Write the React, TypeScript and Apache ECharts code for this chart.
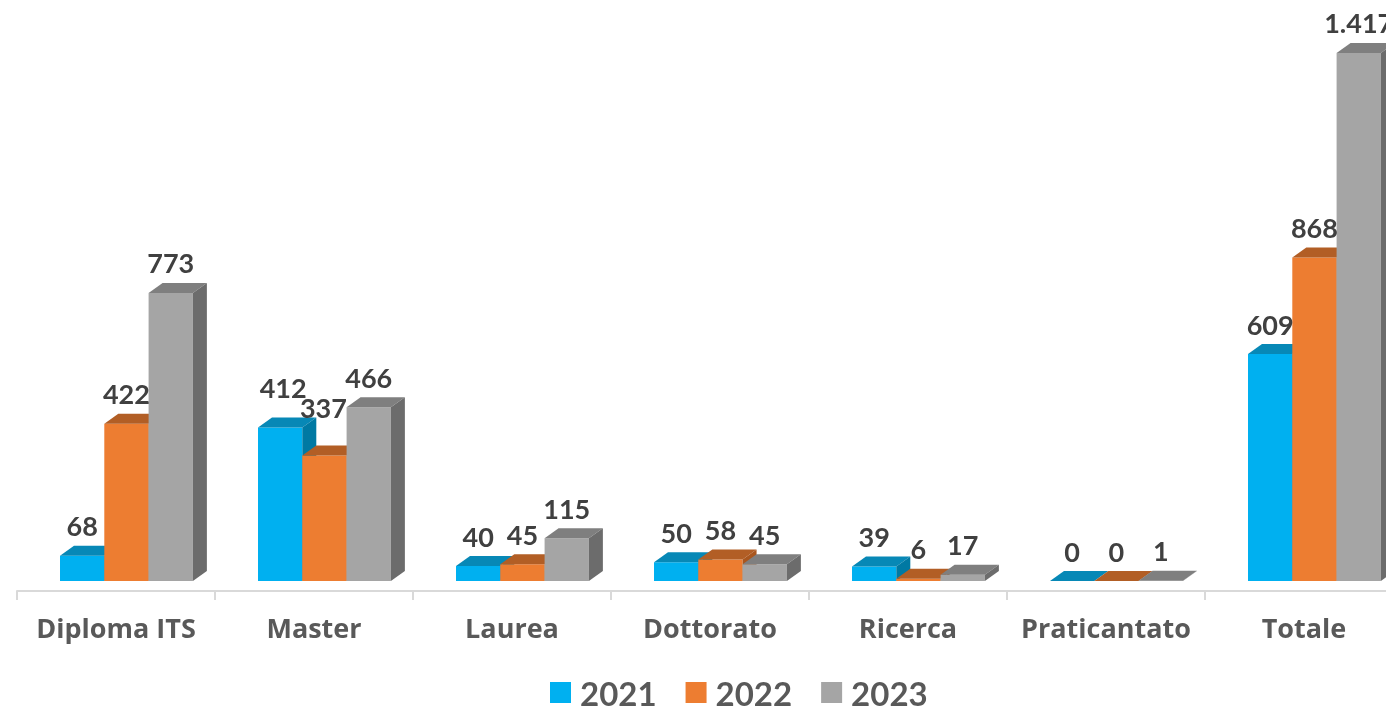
import React, { useEffect, useRef } from "react";
import * as echarts from "echarts";

const categories = ["Diploma ITS", "Master", "Laurea", "Dottorato", "Ricerca", "Praticantato", "Totale"];
const years = ["2021", "2022", "2023"];
const values2021 = [68, 412, 40, 50, 39, 0, 609];
const values2022 = [422, 337, 45, 58, 6, 0, 868];
const values2023 = [773, 466, 115, 45, 17, 1, 1417];

const seriesValues = [values2021, values2022, values2023];
const faceColors = [
  { front: "#00B0F0", top: "#0788B6", side: "#0079A3" },
  { front: "#ED7D31", top: "#B25E25", side: "#A9561E" },
  { front: "#A5A5A5", top: "#7F7F7F", side: "#6C6C6C" },
];

const FONT = "Lato, 'Open Sans', sans-serif";
const AXIS_FONT = "'Open Sans', Lato, sans-serif";

function fmt(n: number): string {
  return String(n).replace(/\B(?=(\d{3})+(?!\d))/g, ".");
}

// small manual label nudges (like the hand-moved labels in the source)
const labelNudge: Record<string, [number, number]> = {
  "1-0": [3, -10],
  "1-1": [-1, -18],
};

export default function App() {
  const ref = useRef<HTMLDivElement>(null);
  useEffect(() => {
    if (!ref.current) return;
    const chart = echarts.init(ref.current, null, { renderer: "svg" });
    const series = years.map((y, s) => ({
      type: "custom",
      name: y,
      itemStyle: { color: faceColors[s].front },
      data: seriesValues[s].map((v, i) => [i, v]),
      renderItem: (params: any, api: any) => {
        const ci = api.value(0) as number;
        const v = api.value(1) as number;
        const base = api.coord([ci, 0]);
        const topP = api.coord([ci, v]);
        const bw = api.size([1, 0])[0];
        const barW = bw * 0.2237;
        const x0 = base[0] - bw * 0.2828 + s * barW;
        const x1 = x0 + barW;
        const yb = base[1] - 10;
        const yt = topP[1] - 10;
        const dx = 14;
        const dy = 10;
        const c = faceColors[s];
        const nudge = labelNudge[`${ci}-${s}`] || [0, 0];
        return {
          type: "group",
          children: [
            {
              type: "polygon",
              shape: { points: [[x0, yt], [x1, yt], [x1, yb], [x0, yb]] },
              style: { fill: c.front },
            },
            {
              type: "polygon",
              shape: { points: [[x0, yt], [x1, yt], [x1 + dx, yt - dy], [x0 + dx, yt - dy]] },
              style: { fill: c.top },
            },
            {
              type: "polygon",
              shape: { points: [[x1, yt], [x1 + dx, yt - dy], [x1 + dx, yb - dy], [x1, yb]] },
              style: { fill: c.side },
            },
            {
              type: "text",
              z2: 100,
              x: (x0 + x1) / 2 + nudge[0],
              y: yt - 30 + nudge[1],
              style: {
                text: fmt(v),
                fill: "#404040",
                font: `bold 27px ${FONT}`,
                align: "center",
                verticalAlign: "middle",
              },
            },
          ],
        };
      },
    }));

    chart.setOption({
      animation: false,
      grid: { left: 17, width: 1386, top: 32, bottom: 123, containLabel: false, outerBoundsMode: "none" },
      legend: {
        data: years,
        bottom: 0,
        left: 545,
        icon: "rect",
        itemWidth: 21,
        itemHeight: 21,
        itemGap: 29,
        textStyle: {
          fontSize: 33,
          fontWeight: "bold",
          color: "#595959",
          fontFamily: FONT,
          padding: [0, 0, 0, 4],
        },
      },
      xAxis: {
        type: "category",
        data: categories,
        boundaryGap: true,
        axisLine: { show: true, lineStyle: { color: "#D9D9D9", width: 2 } },
        axisTick: { show: true, length: 9, lineStyle: { color: "#D9D9D9", width: 2 } },
        axisLabel: { fontSize: 27, fontWeight: "bold", color: "#595959", fontFamily: AXIS_FONT, margin: 23, interval: 0 },
      },
      yAxis: {
        type: "value",
        min: 0,
        max: 1500,
        show: false,
        splitLine: { show: false },
      },
      series,
    });
    return () => chart.dispose();
  }, []);
  return <div ref={ref} style={{ position: "fixed", left: 0, top: 0, width: 1386, height: 714 }} />;
}
